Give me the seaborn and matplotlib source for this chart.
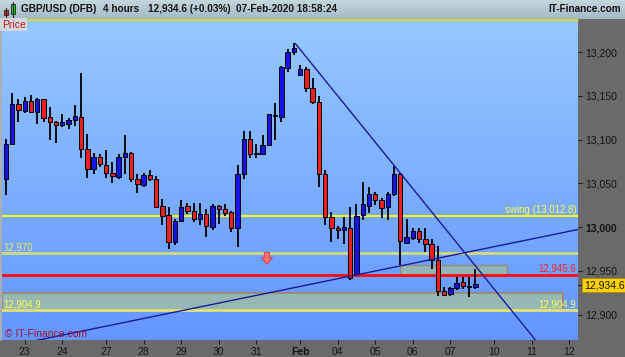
import numpy as np
import pandas as pd
import matplotlib
matplotlib.use("Agg")
import matplotlib.pyplot as plt
import seaborn as sns
from matplotlib.colors import LinearSegmentedColormap
from matplotlib.patches import Rectangle
from matplotlib.lines import Line2D
import matplotlib.transforms as mtransforms

# ---------------- data (4-hour candles, index 0 = 23 Jan first bar) ----------------
idx = list(range(-3, 73))
opens = [13055.1, 13095.1, 13141.1, 13132.8, 13144.2, 13131.3, 13146.5, 13125.9, 13120.2, 13117.1,
         13118.2, 13122.1, 13125.9, 13089.0, 13066.8, 13079.9, 13071.1, 13061.9, 13057.7, 13080.5,
         13084.8, 13055.4, 13048.6, 13059.3, 13055.4, 13024.2, 13013.6, 12983.4, 13007.4, 13024.2,
         13018.9, 13009.4, 13015.1, 13000.6, 13024.2, 13020.5, 13017.0, 12998.7, 13060.4, 13100.4,
         13084.6, 13084.0, 13093.9, 13126.7, 13126.2, 13182.2, 13199.8, 13173.5, 13180.7, 13158.7,
         13142.7, 13060.4, 13012.0, 12999.4, 12996.8, 12999.4, 12946.2, 13013.4, 13024.2, 13037.6,
         13031.1, 13022.7, 13037.6, 13060.4, 12982.3, 12987.3, 12995.7, 12986.2, 12980.5, 12962.5,
         12927.5, 12923.3, 12930.2, 12937.0, 12933.2, 12931.6]
highs = [13100.8, 13153.0, 13146.8, 13148.4, 13151.0, 13147.6, 13146.8, 13137.3, 13121.3, 13129.3,
         13125.1, 13139.6, 13176.2, 13106.5, 13084.4, 13083.3, 13088.2, 13074.1, 13083.3, 13105.3,
         13085.5, 13060.4, 13062.3, 13065.7, 13058.5, 13031.9, 13023.4, 13009.4, 13031.1, 13028.0,
         13027.3, 13027.3, 13020.8, 13026.5, 13024.9, 13026.5, 13018.5, 13071.1, 13109.9, 13110.3,
         13094.7, 13105.3, 13129.6, 13141.6, 13184.2, 13203.6, 13210.1, 13185.3, 13182.7, 13170.1,
         13150.2, 13065.4, 13017.0, 13001.7, 13012.0, 13023.4, 13026.2, 13051.6, 13046.3, 13040.6,
         13033.7, 13040.6, 13069.9, 13062.3, 13009.4, 12999.4, 12998.7, 12998.7, 12986.2, 12978.5,
         12932.0, 12932.0, 12942.8, 12943.4, 12942.8, 12951.9]
lows = [13036.8, 13094.0, 13119.8, 13130.8, 13130.1, 13118.2, 13119.8, 13099.6, 13096.5, 13114.5,
        13112.2, 13116.0, 13079.4, 13055.9, 13061.1, 13069.1, 13055.9, 13050.8, 13054.7, 13060.8,
        13052.0, 13038.7, 13046.3, 13052.8, 13022.5, 13002.5, 12974.8, 12979.7, 13006.3, 13014.7,
        13006.3, 13002.5, 12988.5, 12996.8, 13003.7, 13013.1, 12994.9, 12977.7, 13055.1, 13079.4,
        13079.4, 13083.3, 13092.8, 13099.6, 13119.8, 13177.0, 13196.7, 13172.9, 13154.8, 13140.4,
        13046.3, 13002.5, 12982.7, 12986.5, 12980.5, 12939.7, 12945.4, 13008.2, 13016.6, 13025.4,
        13010.9, 13008.2, 13036.0, 12956.8, 12980.5, 12985.4, 12981.6, 12971.3, 12951.9, 12921.7,
        12921.7, 12921.7, 12928.3, 12929.7, 12920.6, 12929.0]
closes = [13095.1, 13140.8, 13134.2, 13144.2, 13131.3, 13146.8, 13125.1, 13120.5, 13117.1, 13120.2,
          13122.8, 13127.0, 13089.0, 13066.8, 13079.9, 13072.2, 13061.6, 13058.2, 13079.9, 13084.4,
          13054.7, 13049.0, 13059.3, 13055.4, 13023.4, 13012.8, 12983.4, 13007.4, 13023.1, 13018.2,
          13009.4, 13015.1, 13001.7, 13024.2, 13020.5, 13016.6, 12998.7, 13060.4, 13100.4, 13084.0,
          13084.0, 13093.9, 13129.0, 13127.8, 13183.0, 13200.5, 13205.1, 13180.7, 13158.7, 13142.7,
          13060.4, 13012.0, 12998.7, 12996.8, 12999.9, 12941.6, 13013.1, 13026.2, 13037.9, 13031.1,
          13021.6, 13037.6, 13060.4, 12984.6, 12988.5, 12995.7, 12986.2, 12980.8, 12962.5, 12927.5,
          12922.5, 12930.2, 12936.6, 12932.8, 12931.7, 12934.6]

day_ticks = [0, 6, 13, 19, 25, 31, 37, 44, 50, 56, 62, 68, 75, 81, 87]
day_labels = ["23", "24", "27", "28", "29", "30", "31", "Feb", "04", "05", "06", "07", "10", "11", "12"]
price_ticks = [12900, 12950, 13000, 13050, 13100, 13150, 13200]

swing_level = 13012.8
level_12970 = 12970.0
red_level = 12945.6
support_level = 12904.9
last_price = 12934.6

upper_zone_x = [60.0, 77.0]
upper_zone_y = [12945.6, 12956.8]
lower_zone_x = [-3.7, 86.0]
lower_zone_y = [12904.9, 12924.5]

trend_down_x = [43.2, 95.0]
trend_down_y = [13210.1, 12752.7]
trend_up_x = [-4.0, 90.0]
trend_up_y = [12862.0, 12999.7]

arrow_x = 38.7
arrow_y = [12971.0, 12957.5]

df = pd.DataFrame({"i": idx, "open": opens, "high": highs, "low": lows, "close": closes})

# ---------------- figure ----------------
W, H = 625, 357
sns.set_theme(style="white")
plt.rcParams["font.family"] = ["Liberation Sans", "DejaVu Sans"]

fig = plt.figure(figsize=(W / 100, H / 100), dpi=100)
fig.patch.set_facecolor("#6A6A6A")

def fx(x):
    return x / W

def fy(y):
    return 1 - y / H

ax = fig.add_axes([fx(2), fy(340), (578 - 2) / W, (340 - 20) / H])
xmin, xmax = -3.63, 88.39
ymin, ymax = 12871.1, 13236.7
ax.set_xlim(xmin, xmax)
ax.set_ylim(ymin, ymax)

# background gradient
bg = LinearSegmentedColormap.from_list("bg", ["#6496FF", "#96C8FF"])
ax.imshow(np.linspace(0, 1, 256).reshape(-1, 1), cmap=bg, origin="lower", aspect="auto",
          extent=[xmin, xmax, ymin, ymax], zorder=0)

# zones
ax.add_patch(Rectangle((lower_zone_x[0], lower_zone_y[0]), lower_zone_x[1] - lower_zone_x[0],
                       lower_zone_y[1] - lower_zone_y[0], facecolor="#95B8B4", edgecolor="#A08468",
                       lw=1.2, zorder=1))
ax.add_patch(Rectangle((upper_zone_x[0], upper_zone_y[0]), upper_zone_x[1] - upper_zone_x[0],
                       upper_zone_y[1] - upper_zone_y[0], facecolor="#95B8B4", edgecolor="#9A8A74",
                       lw=1.0, alpha=0.95, zorder=1))

# horizontal levels
ax.axhline(swing_level, color="#FFFF00", lw=1.4, zorder=2)
ax.axhline(level_12970, color="#D2DA84", lw=2.0, zorder=2)
ax.axhline(red_level, color="#FF0A0A", lw=2.0, zorder=2)
ax.axhline(support_level, color="#E2E274", lw=2.0, zorder=2)

trans = mtransforms.blended_transform_factory(ax.transAxes, ax.transData)
lab_kw = dict(fontsize=7, transform=trans, va="bottom", zorder=6)
ax.text(0.997, swing_level + 1.0, "swing (13,012.8)", color="#FFFF3C", ha="right", **lab_kw)
ax.text(0.003, level_12970 + 1.5, "12,970", color="#E8E86C", ha="left", **lab_kw)
ax.text(0.997, red_level + 1.5, "12,945.6", color="#FF2020", ha="right", **lab_kw)
ax.text(0.997, support_level + 1.5, "12,904.9", color="#FFFF50", ha="right", **lab_kw)
ax.text(0.003, support_level + 1.5, "12,904.9", color="#FFFF50", ha="left", **lab_kw)

# red arrow
ax.annotate("", xy=(arrow_x, arrow_y[1]), xytext=(arrow_x, arrow_y[0]),
            arrowprops=dict(arrowstyle="simple,head_width=0.65,head_length=0.4,tail_width=0.32",
                            fc="#FF7070", ec="#D03030", lw=0.6, shrinkA=0, shrinkB=0), zorder=5)

# candles
bw = 0.7
for _, r in df.iterrows():
    ax.vlines(r["i"], r["low"], r["high"], color="black", lw=1.3, zorder=3)
    up = r["close"] >= r["open"]
    lo = min(r["open"], r["close"])
    hgt = max(abs(r["close"] - r["open"]), 0.9)
    ax.add_patch(Rectangle((r["i"] - bw / 2, lo), bw, hgt,
                           facecolor="#1414E6" if up else "#F01E1E",
                           edgecolor="black", lw=0.7, zorder=4))

# trend lines
sns.lineplot(x=trend_down_x, y=trend_down_y, ax=ax, color="#1A1A96", lw=1.0, legend=False, zorder=5)
sns.lineplot(x=trend_up_x, y=trend_up_y, ax=ax, color="#1A1A96", lw=1.0, legend=False, zorder=5)
ax.set_xlim(xmin, xmax)
ax.set_ylim(ymin, ymax)

# watermark
ax.text(0.005, 0.018, "\u00a9 IT-Finance.com", transform=ax.transAxes, color="#A0102A",
        fontsize=7.5, ha="left", va="center", zorder=6)

# axes styling
for s in ax.spines.values():
    s.set_visible(False)
ax.grid(False)
ax.yaxis.tick_right()
ax.set_yticks(price_ticks)
ax.set_yticklabels([f"{v:,}" for v in price_ticks])
ax.tick_params(axis="y", direction="out", length=3, width=0.8, color="#202020", pad=2,
               labelsize=7.5, labelcolor="#141414", right=True, left=False)
for t in ax.get_yticklabels():
    if t.get_text() == "13,000":
        t.set_fontweight("bold")
ax.set_xticks(day_ticks)
ax.set_xticklabels(day_labels)
ax.tick_params(axis="x", direction="out", length=3, width=0.8, color="#202020", pad=2,
               labelsize=7.5, labelcolor="#141414", bottom=True, top=False)
for t in ax.get_xticklabels():
    if t.get_text() == "Feb":
        t.set_fontweight("bold")
ax.set_xlabel("")
ax.set_ylabel("")

# left light border
fig.add_artist(Line2D([fx(0.8), fx(0.8)], [fy(19), fy(340)], color="#B8BEC4", lw=1.2))

# header bar
hax = fig.add_axes([0, fy(19), 1, 19 / H])
hdr = LinearSegmentedColormap.from_list("hdr", ["#A2BAC6", "#C4D6DE"])
hax.imshow(np.linspace(0, 1, 64).reshape(-1, 1), cmap=hdr, origin="lower", aspect="auto",
           extent=[0, 1, 0, 1])
hax.set_axis_off()
fig.add_artist(Line2D([0, fx(578)], [fy(19.5), fy(19.5)], color="#E6E600", lw=1.2))

# header icon
fig.add_artist(Line2D([fx(6), fx(6)], [fy(17), fy(8)], color="#202020", lw=0.8))
fig.add_artist(Rectangle((fx(4), fy(15)), fx(4), 5 / H, facecolor="#F02020", edgecolor="#202020", lw=0.6))
fig.add_artist(Line2D([fx(13), fx(13)], [fy(17), fy(2)], color="#202020", lw=0.8))
fig.add_artist(Rectangle((fx(11), fy(14)), fx(4), 10 / H, facecolor="#20D020", edgecolor="#202020", lw=0.6))

hkw = dict(fontsize=7.2, fontweight="bold", color="#141414", va="center")
fig.text(fx(21), fy(9.5), "GBP/USD (DFB)", ha="left", **hkw)
fig.text(fx(103), fy(9.5), "4 hours", ha="left", **hkw)
fig.text(fx(148), fy(9.5), "12,934.6 (+0.03%)", ha="left", **hkw)
fig.text(fx(236), fy(9.5), "07-Feb-2020 18:58:24", ha="left", **hkw)
fig.text(fx(621), fy(9.5), "IT-Finance.com", ha="right", **hkw)

# Price tag
fig.text(fx(2), fy(24.5), "Price", ha="left", va="center", fontsize=7.5, color="#C01818",
         bbox=dict(boxstyle="square,pad=0.15", facecolor="#D4D8DC", edgecolor="none"))

# last price box
fig.text(fx(584), fy(285), f"{last_price:,.1f}", ha="left", va="center", fontsize=7.5,
         color="#101010", bbox=dict(boxstyle="square,pad=0.2", facecolor="#FFD200", edgecolor="#B08800", lw=0.6))
fig.add_artist(Line2D([fx(578), fx(582)], [fy(285), fy(285)], color="#202020", lw=0.8))

fig.savefig("out.png", dpi=100, facecolor=fig.get_facecolor())
